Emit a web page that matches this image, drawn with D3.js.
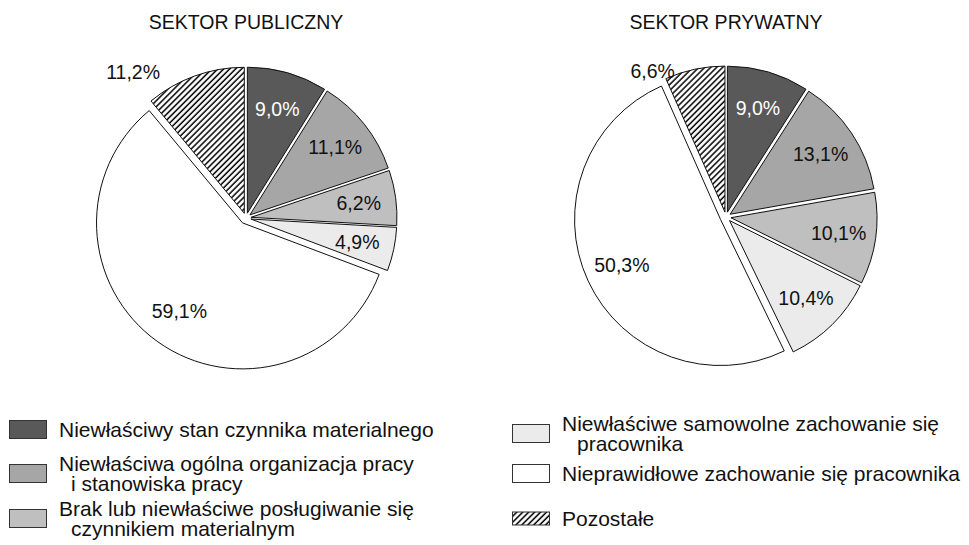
<!DOCTYPE html>
<html>
<head>
<meta charset="utf-8">
<script src="https://cdn.jsdelivr.net/npm/d3@7"></script>
<style>
  html, body { margin: 0; padding: 0; background: #fff; }
  svg { display: block; }
  text { font-family: "Liberation Sans", Arial, sans-serif; fill: #111; }
</style>
</head>
<body>
<svg id="chart" width="969" height="545"></svg>
<script>
// Causes of accidents at work, share of cases by sector
const categories = [
  ["Niewłaściwy stan czynnika materialnego"],
  ["Niewłaściwa ogólna organizacja pracy", "i stanowiska pracy"],
  ["Brak lub niewłaściwe posługiwanie się", "czynnikiem materialnym"],
  ["Niewłaściwe samowolne zachowanie się", "pracownika"],
  ["Nieprawidłowe zachowanie się pracownika"],
  ["Pozostałe"]
];
const sectorTitles = ["SEKTOR PUBLICZNY", "SEKTOR PRYWATNY"];
const publicValues = [9.0, 11.1, 6.2, 4.9, 59.1, 11.2];
const privateValues = [9.0, 13.1, 10.1, 10.4, 50.3, 6.6];

// Styling
const fills = ["#595959", "#a6a6a6", "#bfbfbf", "#ebebeb", "#ffffff", "url(#hatch)"];
const labelColors = ["#ffffff", "#111", "#111", "#111", "#111", "#111"];
const explode = [5, 5, 5, 5, 6, 5];
const labelOutside = [false, false, false, false, false, true];

const svg = d3.select("#chart");
const R = 146;

const defs = svg.append("defs");
const hatch = defs.append("pattern")
  .attr("id", "hatch")
  .attr("width", 4.2).attr("height", 4.2)
  .attr("patternUnits", "userSpaceOnUse")
  .attr("patternTransform", "rotate(45)");
hatch.append("rect").attr("width", 4.2).attr("height", 4.2).attr("fill", "#fff");
hatch.append("line")
  .attr("x1", 1).attr("y1", -1).attr("x2", 1).attr("y2", 6)
  .attr("stroke", "#000").attr("stroke-width", 1.5);

const fmt = v => d3.format(".1f")(v).replace(".", ",") + "%";

const pie = d3.pie().sort(null).value(d => d);
const arc = d3.arc().innerRadius(0).outerRadius(R);

function drawPie(values, title, cx, cy) {
  const g = svg.append("g").attr("transform", `translate(${cx},${cy})`);
  const arcs = pie(values);

  svg.append("text")
    .attr("x", cx).attr("y", 22)
    .attr("text-anchor", "middle")
    .attr("dominant-baseline", "central")
    .style("font-size", "19.5px")
    .text(title);

  const slices = g.selectAll("g.slice").data(arcs).join("g")
    .attr("class", "slice")
    .attr("transform", (d, i) => {
      const a = (d.startAngle + d.endAngle) / 2;
      return `translate(${explode[i] * Math.sin(a)},${-explode[i] * Math.cos(a)})`;
    });

  slices.append("path")
    .attr("d", arc)
    .attr("fill", (d, i) => fills[i])
    .attr("stroke", "#111")
    .attr("stroke-width", 1)
    .attr("stroke-linejoin", "miter");

  slices.append("text")
    .attr("transform", (d, i) => {
      if (labelOutside[i]) {
        // outside label: right end just inside the slice's leading corner, level with its top
        return `translate(${R * Math.sin(d.startAngle) + 9},${-R + 5})`;
      }
      const a = (d.startAngle + d.endAngle) / 2;
      const r = R * 0.745;
      return `translate(${r * Math.sin(a)},${-r * Math.cos(a)})`;
    })
    .attr("text-anchor", (d, i) => labelOutside[i] ? "end" : "middle")
    .attr("dominant-baseline", "central")
    .style("font-size", "19.5px")
    .style("fill", (d, i) => labelOutside[i] ? "#111" : labelColors[i])
    .text(d => fmt(d.data));
}

drawPie(publicValues, sectorTitles[0], 246, 218);
drawPie(privateValues, sectorTitles[1], 726, 217);

// Legend: two columns of three entries
const legendCols = [
  { x: 9, rows: [429, 463, 508] },
  { x: 512, rows: [423, 473, 518] }
];
const lineGap = 20;
categories.forEach((lines, i) => {
  const col = legendCols[Math.floor(i / 3)];
  const y = col.rows[i % 3];
  const g = svg.append("g");
  const sh = i === 5 ? 13 : 18;
  const sy = lines.length > 1 ? y + lineGap / 2 - sh / 2 : y - sh / 2;
  g.append("rect")
    .attr("x", col.x + 0.5).attr("y", sy + 0.5)
    .attr("width", 37).attr("height", sh)
    .attr("fill", fills[i])
    .attr("stroke", "#333").attr("stroke-width", 1);
  lines.forEach((ln, k) => {
    g.append("text")
      .attr("x", col.x + 50 + (k > 0 ? (i === 3 ? 15 : 12) : 0))
      .attr("y", y + k * lineGap)
      .attr("dominant-baseline", "central")
      .style("font-size", "21px")
      .text(ln);
  });
});
</script>
</body>
</html>
